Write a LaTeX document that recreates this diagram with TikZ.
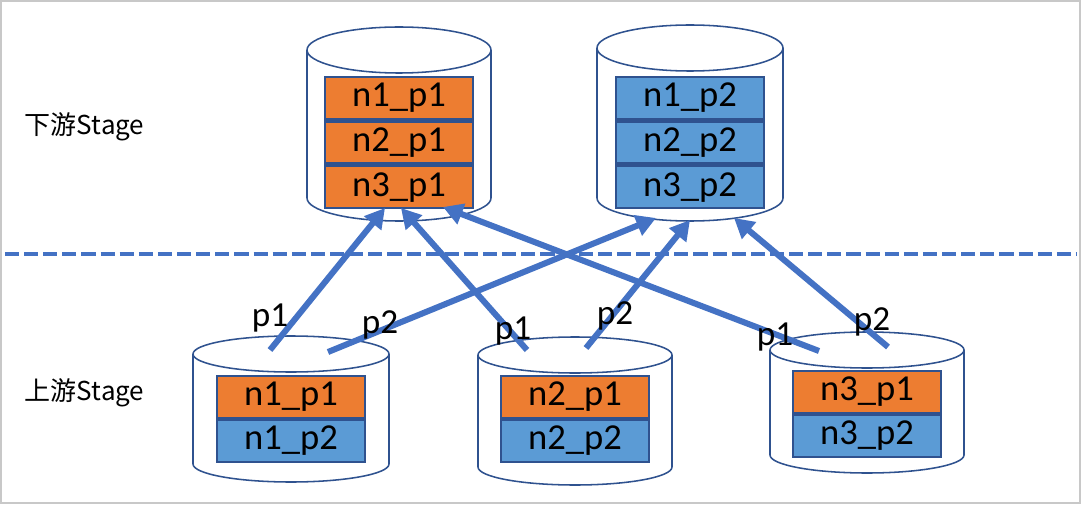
\documentclass[tikz,border=0pt]{standalone}
\usepackage{fontspec}
\setmainfont{Carlito}
\newfontfamily\cjk{Noto Sans CJK SC}
\usetikzlibrary{positioning,arrows.meta}
\definecolor{StageBlue}{HTML}{4472C4}
\definecolor{CylLine}{HTML}{2F528F}
\definecolor{PartOrange}{HTML}{ED7D31}
\definecolor{PartBlue}{HTML}{5B9BD5}
\definecolor{FrameGray}{HTML}{C8C8C8}

\begin{document}
\begin{tikzpicture}[
      x=0.025cm,y=-0.025cm,
      drum/.style={draw=CylLine,line width=1.1pt,fill=white},
      partbox/.style={
        draw=CylLine,
        line width=1.2pt,
        minimum width=3.7cm,
        minimum height=1.05cm,
        inner sep=0pt,
        font=\fontsize{26}{30}\selectfont
      },
      toppart/.style={partbox,line width=1.8pt},
      shuffle/.style={-{Triangle[length=14pt,width=15pt]},line width=4.3pt,color=StageBlue},
      plabel/.style={font=\fontsize{25}{30}\selectfont},
      stagelabel/.style={anchor=west,font=\cjk\fontsize{18.5}{22}\selectfont}
    ]
      \useasboundingbox (0,0) rectangle (1082,505);
      \draw[FrameGray,line width=0.8pt] (1,1) rectangle (1080,503);
      % cylinders
      \foreach \cx/\ty/\by/\rx/\ry in {399/50/198/92/23, 690/48/198/93/23,
          291/354/464/98/18, 575/355/467/97/18, 867/350/455/97/18}
        \draw[drum] (\cx-\rx,\ty) -- (\cx-\rx,\by)
          arc[start angle=180,end angle=0,x radius=\rx,y radius=\ry]
          -- (\cx+\rx,\ty) (\cx,\ty) ellipse[x radius=\rx,y radius=\ry];
      % downstream partitions
      \node[toppart,fill=PartOrange] (d1a) at (399,98) {n1\_p1};
      \node[toppart,fill=PartOrange,below=0pt of d1a] (d1b) {n2\_p1};
      \node[toppart,fill=PartOrange,below=0pt of d1b] (d1c) {n3\_p1};
      \node[toppart,fill=PartBlue] (d2a) at (690,98) {n1\_p2};
      \node[toppart,fill=PartBlue,below=0pt of d2a] (d2b) {n2\_p2};
      \node[toppart,fill=PartBlue,below=0pt of d2b] (d2c) {n3\_p2};
      % upstream partitions
      \node[partbox,fill=PartOrange] (u1a) at (291,397) {n1\_p1};
      \node[partbox,fill=PartBlue,below=0pt of u1a] (u1b) {n1\_p2};
      \node[partbox,fill=PartOrange] (u2a) at (575,397) {n2\_p1};
      \node[partbox,fill=PartBlue,below=0pt of u2a] (u2b) {n2\_p2};
      \node[partbox,fill=PartOrange] (u3a) at (867,392) {n3\_p1};
      \node[partbox,fill=PartBlue,below=0pt of u3a] (u3b) {n3\_p2};
      \node[stagelabel] (down) at (20,127) {下游Stage};
      \node[stagelabel] (up) at (20,393) {上游Stage};
      \draw[StageBlue,line width=3pt,dash pattern=on 10pt off 3.6pt] (5,254) -- (1076,254);
      % shuffle ends
      \coordinate (s11) at (270,350);
      \coordinate (s12) at (328,352);
      \coordinate (s21) at (527,350);
      \coordinate (s22) at (586,348);
      \coordinate (s31) at (819,351);
      \coordinate (s32) at (888,347);
      \coordinate (t11) at (385,208);
      \coordinate (t21) at (401,208);
      \coordinate (t31) at (443,207);
      \coordinate (t12) at (656,218);
      \coordinate (t22) at (690,220);
      \coordinate (t32) at (734,218);
      \draw[shuffle] (s11) -- (t11);
      \draw[shuffle] (s12) -- (t12);
      \draw[shuffle] (s21) -- (t21);
      \draw[shuffle] (s22) -- (t22);
      \draw[shuffle] (s31) -- (t31);
      \draw[shuffle] (s32) -- (t32);
      \node[plabel] (l11) at (270,318) {p1};
      \node[plabel] (l12) at (380,325) {p2};
      \node[plabel] (l21) at (513,331) {p1};
      \node[plabel] (l22) at (615,316) {p2};
      \node[plabel] (l31) at (775,337) {p1};
      \node[plabel] (l32) at (872,322) {p2};
    \end{tikzpicture}
\end{document}
